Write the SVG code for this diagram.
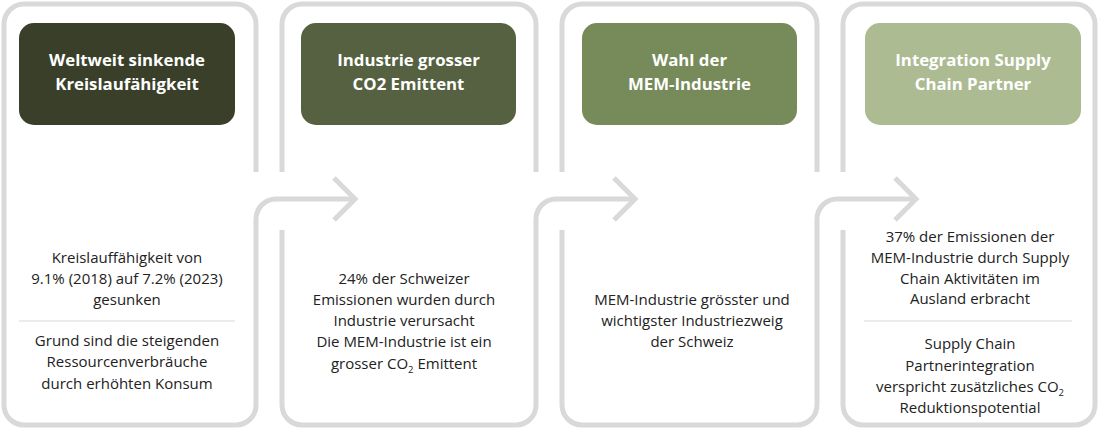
<svg xmlns="http://www.w3.org/2000/svg" width="1100" height="429" viewBox="0 0 1100 429">
<defs>
<style>
.outline{fill:none;stroke:#d9d9d9;stroke-width:5;stroke-linecap:butt;stroke-linejoin:round}
.conn{fill:none;stroke:#d9d9d9;stroke-width:5;stroke-linecap:butt;stroke-linejoin:miter}
.hdr{font-family:"Open Sans",Lato,sans-serif;font-weight:bold;font-size:16.8px;fill:#ffffff;text-anchor:middle}
.body{font-family:"Open Sans",Lato,sans-serif;font-size:15px;fill:#222222;text-anchor:middle}
.sub{font-size:9.5px}
.div{stroke:#d9d9d9;stroke-width:1}
</style>
</defs>
<rect width="1100" height="429" fill="#ffffff"/>
<g id="connectors">
<path class="conn" d="M256,219 A20 20 0 0 1 276,199 H355"/>
<polyline class="conn" points="334,178 355,199 334,220"/>
<path class="conn" d="M536,219 A20 20 0 0 1 556,199 H635"/>
<polyline class="conn" points="614,178 635,199 614,220"/>
<path class="conn" d="M817,219 A20 20 0 0 1 837,199 H916"/>
<polyline class="conn" points="895,178 916,199 895,220"/>
</g>
<g id="node1">
<path class="outline" d="M256,172 V24 A20 20 0 0 0 236,4 H24 A20 20 0 0 0 4,24 V405 A20 20 0 0 0 24,425 H236 A20 20 0 0 0 256,405 V219"/>
<rect x="19" y="23" width="216" height="102" rx="15" fill="#3a3f2a"/>
<text class="hdr" x="127" y="66">Weltweit sinkende</text>
<text class="hdr" x="127" y="90">Kreislaufähigkeit</text>
<text class="body" x="127" y="263">Kreislauffähigkeit von</text>
<text class="body" x="127" y="284">9.1% (2018) auf 7.2% (2023)</text>
<text class="body" x="127" y="305">gesunken</text>
<line class="div" x1="19" y1="321" x2="235" y2="321"/>
<text class="body" x="127" y="346">Grund sind die steigenden</text>
<text class="body" x="127" y="367">Ressourcenverbräuche</text>
<text class="body" x="127" y="389">durch erhöhten Konsum</text>
</g>
<g id="node2">
<path class="outline" d="M282,230 V405 A20 20 0 0 0 302,425 H516 A20 20 0 0 0 536,405 V219 M536,172 V24 A20 20 0 0 0 516,4 H302 A20 20 0 0 0 282,24 V172"/>
<rect x="301" y="23" width="215" height="102" rx="15" fill="#556140"/>
<text class="hdr" x="408.5" y="66">Industrie grosser</text>
<text class="hdr" x="408.5" y="90">CO2 Emittent</text>
<text class="body" x="404" y="284">24% der Schweizer</text>
<text class="body" x="404" y="305">Emissionen wurden durch</text>
<text class="body" x="404" y="326">Industrie verursacht</text>
<text class="body" x="404" y="347">Die MEM-Industrie ist ein</text>
<text class="body" x="404" y="369">grosser CO<tspan class="sub" dy="4">2</tspan><tspan dy="-4"> Emittent</tspan></text>
</g>
<g id="node3">
<path class="outline" d="M562,230 V405 A20 20 0 0 0 582,425 H797 A20 20 0 0 0 817,405 V219 M817,172 V24 A20 20 0 0 0 797,4 H582 A20 20 0 0 0 562,24 V172"/>
<rect x="582" y="23" width="215" height="102" rx="15" fill="#778a59"/>
<text class="hdr" x="689.5" y="66">Wahl der</text>
<text class="hdr" x="689.5" y="90">MEM-Industrie</text>
<text class="body" x="692" y="305">MEM-Industrie grösster und</text>
<text class="body" x="692" y="326">wichtigster Industriezweig</text>
<text class="body" x="692" y="347">der Schweiz</text>
</g>
<g id="node4">
<path class="outline" d="M843,230 V405 A20 20 0 0 0 863,425 H1075 A20 20 0 0 0 1095,405 V24 A20 20 0 0 0 1075,4 H863 A20 20 0 0 0 843,24 V172"/>
<rect x="865" y="23" width="216" height="102" rx="15" fill="#acbb92"/>
<text class="hdr" x="973" y="66">Integration Supply</text>
<text class="hdr" x="973" y="90">Chain Partner</text>
<text class="body" x="970" y="242">37% der Emissionen der</text>
<text class="body" x="970" y="263">MEM-Industrie durch Supply</text>
<text class="body" x="970" y="284">Chain Aktivitäten im</text>
<text class="body" x="970" y="304">Ausland erbracht</text>
<line class="div" x1="864" y1="321" x2="1072" y2="321"/>
<text class="body" x="970" y="349">Supply Chain</text>
<text class="body" x="970" y="371">Partnerintegration</text>
<text class="body" x="970" y="392">verspricht zusätzliches CO<tspan class="sub" dy="4">2</tspan></text>
<text class="body" x="970" y="413">Reduktionspotential</text>
</g>
</svg>
